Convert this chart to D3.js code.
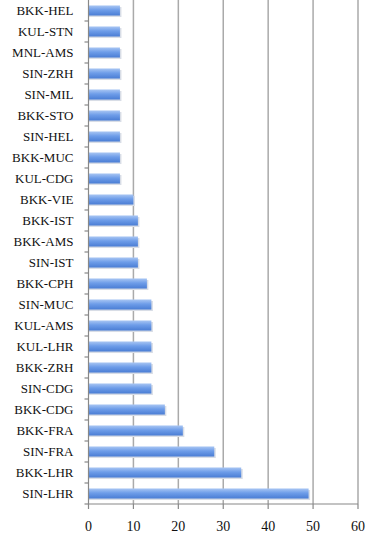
<!DOCTYPE html>
<html>
<head>
<meta charset="utf-8">
<script src="https://cdn.jsdelivr.net/npm/d3@7"></script>
<style>
  body { margin: 0; background: #fff; }
  text { font-family: "Liberation Serif", "DejaVu Serif", serif; fill: #111; }
</style>
</head>
<body>
<svg id="chart"></svg>
<script>
// routes, top to bottom as drawn
var routes = ["BKK-HEL", "KUL-STN", "MNL-AMS", "SIN-ZRH", "SIN-MIL", "BKK-STO", "SIN-HEL",
  "BKK-MUC", "KUL-CDG", "BKK-VIE", "BKK-IST", "BKK-AMS", "SIN-IST", "BKK-CPH", "SIN-MUC",
  "KUL-AMS", "KUL-LHR", "BKK-ZRH", "SIN-CDG", "BKK-CDG", "BKK-FRA", "SIN-FRA", "BKK-LHR", "SIN-LHR"];
var counts = [7, 7, 7, 7, 7, 7, 7, 7, 7, 10, 11, 11, 11, 13, 14, 14, 14, 14, 14, 17, 21, 28, 34, 49];
var xTicks = [0, 10, 20, 30, 40, 50, 60];

var margin = {top: 0, right: 12, bottom: 32, left: 88.5},
    width = 370 - margin.left - margin.right,
    height = 536 - margin.top - margin.bottom;

var svg = d3.select("#chart")
    .attr("width", 370)
    .attr("height", 536);

// bar gradient
var defs = svg.append("defs");
var grad = defs.append("linearGradient")
    .attr("id", "barGrad")
    .attr("x1", 0).attr("y1", 0).attr("x2", 0).attr("y2", 1);
grad.append("stop").attr("offset", "0%").attr("stop-color", "#a9c6f3");
grad.append("stop").attr("offset", "45%").attr("stop-color", "#6e9de9");
grad.append("stop").attr("offset", "100%").attr("stop-color", "#4a7dd4");

var g = svg.append("g")
    .attr("transform", `translate(${margin.left}, ${margin.top})`);

var x = d3.scaleLinear()
    .domain([0, 60])
    .range([0, width]);

var y = d3.scaleBand()
    .domain(routes)
    .range([0, height])
    .paddingInner(0.52)
    .paddingOuter(0.26);

// vertical gridlines
g.append("g")
  .selectAll("line")
  .data(xTicks.slice(1))
  .enter()
  .append("line")
    .attr("x1", d => x(d))
    .attr("x2", d => x(d))
    .attr("y1", 0)
    .attr("y2", height)
    .attr("stroke", "#aaaaaa")
    .attr("stroke-width", 1.5);

// bar shadows
g.append("g")
  .selectAll("rect")
  .data(routes)
  .enter()
  .append("rect")
    .attr("x", 0)
    .attr("y", d => y(d) + 1.5)
    .attr("width", (d, i) => x(counts[i]) + 1.5)
    .attr("height", y.bandwidth())
    .attr("fill", "#d8dde6");

// bars
g.append("g")
  .selectAll("rect")
  .data(routes)
  .enter()
  .append("rect")
    .attr("x", 0)
    .attr("y", d => y(d))
    .attr("width", (d, i) => x(counts[i]))
    .attr("height", y.bandwidth())
    .attr("fill", "url(#barGrad)");

// y axis: ticks between categories
var step = y.step();
var yAxis = g.append("g");
yAxis.append("line")
    .attr("x1", 0).attr("x2", 0)
    .attr("y1", 0).attr("y2", height)
    .attr("stroke", "#888").attr("stroke-width", 1.2);
yAxis.selectAll(".ytick")
  .data(d3.range(1, routes.length + 1))
  .enter()
  .append("line")
    .attr("class", "ytick")
    .attr("x1", -4).attr("x2", 0)
    .attr("y1", d => d * step)
    .attr("y2", d => d * step)
    .attr("stroke", "#888").attr("stroke-width", 1.2);
yAxis.selectAll("text")
  .data(routes)
  .enter()
  .append("text")
    .attr("x", -15)
    .attr("y", d => y(d) + y.bandwidth() / 2)
    .attr("dy", "0.35em")
    .attr("text-anchor", "end")
    .style("font-size", "13px")
    .text(d => d);

// x axis
var xAxis = g.append("g")
    .attr("transform", `translate(0, ${height})`);
xAxis.append("line")
    .attr("x1", 0).attr("x2", width)
    .attr("stroke", "#888").attr("stroke-width", 1.2);
xAxis.selectAll(".xtick")
  .data(xTicks)
  .enter()
  .append("line")
    .attr("class", "xtick")
    .attr("x1", d => x(d)).attr("x2", d => x(d))
    .attr("y1", 0).attr("y2", 5)
    .attr("stroke", "#888").attr("stroke-width", 1.2);
xAxis.selectAll("text")
  .data(xTicks)
  .enter()
  .append("text")
    .attr("x", d => x(d))
    .attr("y", 22)
    .attr("dy", "0.35em")
    .attr("text-anchor", "middle")
    .style("font-size", "14px")
    .text(d => d);
</script>
</body>
</html>
